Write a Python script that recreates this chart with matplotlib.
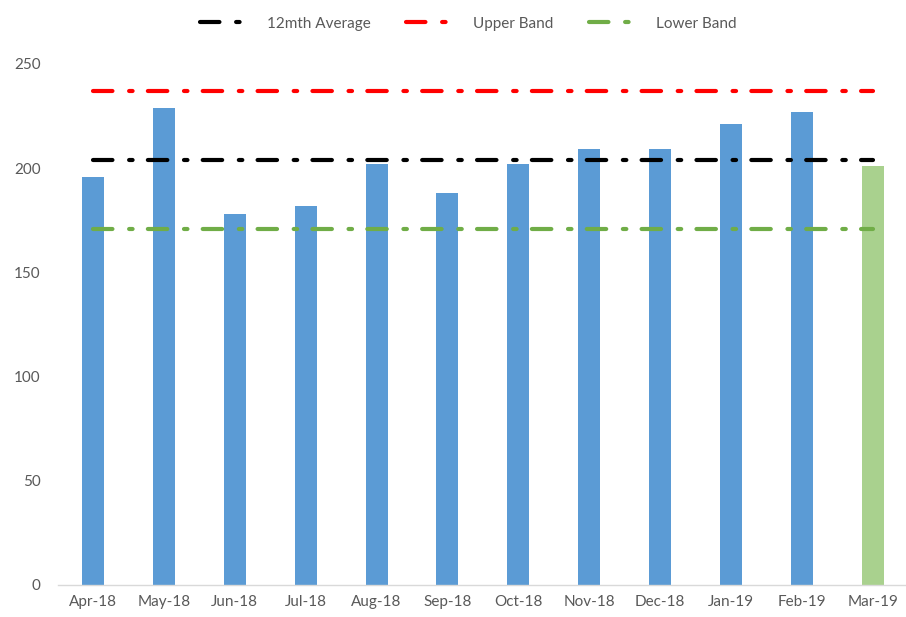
import numpy as np
import matplotlib
matplotlib.use('Agg')
import matplotlib.pyplot as plt

months = ['Apr-18', 'May-18', 'Jun-18', 'Jul-18', 'Aug-18', 'Sep-18',
          'Oct-18', 'Nov-18', 'Dec-18', 'Jan-19', 'Feb-19', 'Mar-19']
values = [196, 229, 178, 182, 202, 188, 202, 209, 209, 221, 227, 201]
avg_12m = 204
upper_band = 237
lower_band = 171

plt.rcParams['font.family'] = ['Lato', 'DejaVu Sans']
plt.rcParams['lines.scale_dashes'] = False

fig = plt.figure(figsize=(9.06, 6.17), dpi=100)
ax = fig.add_axes([0.0635, 0.0519, 0.939, 0.8444])

x = np.arange(len(months))
colors = ['#5B9BD5'] * (len(months) - 1) + ['#A9D18E']
ax.bar(x, values, width=0.31, color=colors, zorder=2)

dash = (14, 12, 2.5, 11)
for val, col, lab in [(avg_12m, 'black', '12mth Average'),
                      (upper_band, '#FF0000', 'Upper Band'),
                      (lower_band, '#70AD47', 'Lower Band')]:
    ax.plot(x, [val] * len(x), color=col, lw=3, dashes=dash,
            dash_capstyle='round', label=lab, zorder=3)

ax.set_xlim(-0.5, len(months) - 0.5)
ax.set_ylim(0, 250)
ax.set_yticks([0, 50, 100, 150, 200, 250])
ax.set_xticks(x)
ax.set_xticklabels(months)

for s in ['top', 'right', 'left']:
    ax.spines[s].set_visible(False)
ax.spines['bottom'].set_color('#D9D9D9')
ax.spines['bottom'].set_linewidth(1)
ax.tick_params(axis='both', length=0, colors='#595959', labelsize=11)
ax.tick_params(axis='x', pad=7)
ax.tick_params(axis='y', pad=12)

leg = fig.legend(loc='upper center', bbox_to_anchor=(0.517, 0.995), ncol=3,
                 frameon=False, fontsize=11, handlelength=2.8,
                 columnspacing=2.3, handletextpad=1.6)
for t in leg.get_texts():
    t.set_color('#595959')

fig.savefig('out.png', dpi=100)
